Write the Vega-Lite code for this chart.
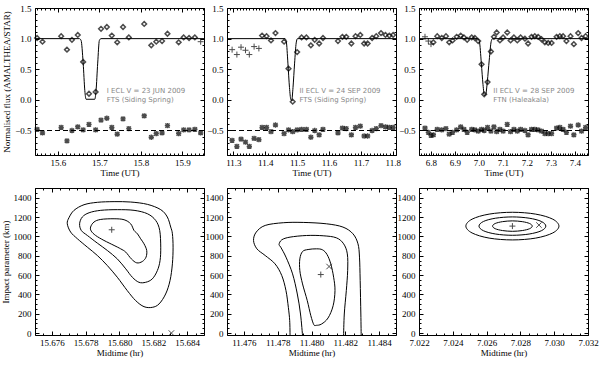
{
"$schema": "https://vega.github.io/schema/vega-lite/v6.json",
"background": "white",
"padding": {"left": 0, "top": 3, "right": 0, "bottom": 3},
"config": {
  "view": {"stroke": "black", "strokeWidth": 1},
  "font": "Liberation Serif",
  "axis": {"domain": false, "grid": false, "labelFont": "Liberation Serif", "labelFontSize": 9, "labelColor": "black", "titleFont": "Liberation Serif", "titleFontSize": 9, "titleFontWeight": "normal", "titleColor": "black", "tickColor": "black", "tickWidth": 1, "labelFlush": false, "labelOverlap": false}
},
"datasets": {
  "lc1": [
    {"t":15.550,"f":1.01,"s":-0.48,"sym":"d"},{"t":15.563,"f":0.95,"s":-0.54,"sym":"d"},{"t":15.608,"f":1.04,"s":-0.45,"sym":"d"},{"t":15.622,"f":0.82,"s":-0.67,"sym":"d"},{"t":15.634,"f":0.98,"s":-0.50,"sym":"d"},{"t":15.648,"f":1.06,"s":-0.44,"sym":"d"},{"t":15.661,"f":0.62,"s":-0.49,"sym":"d"},{"t":15.675,"f":0.10,"s":-0.40,"sym":"d"},{"t":15.691,"f":0.13,"s":-0.49,"sym":"d"},{"t":15.704,"f":1.16,"s":-0.33,"sym":"d"},{"t":15.718,"f":1.19,"s":-0.30,"sym":"d"},{"t":15.730,"f":1.05,"s":-0.45,"sym":"d"},{"t":15.743,"f":0.94,"s":-0.56,"sym":"d"},{"t":15.757,"f":1.19,"s":-0.31,"sym":"d"},{"t":15.771,"f":1.02,"s":-0.47,"sym":"d"},{"t":15.808,"f":1.24,"s":-0.26,"sym":"d"},{"t":15.825,"f":0.89,"s":-0.61,"sym":"d"},{"t":15.837,"f":0.95,"s":-0.55,"sym":"d"},{"t":15.851,"f":0.96,"s":-0.54,"sym":"d"},{"t":15.864,"f":1.08,"s":-0.42,"sym":"d"},{"t":15.891,"f":0.94,"s":-0.55,"sym":"d"},{"t":15.903,"f":1.02,"s":-0.49,"sym":"d"},{"t":15.916,"f":1.01,"s":-0.49,"sym":"d"},{"t":15.930,"f":1.02,"s":-0.48,"sym":"d"},{"t":15.944,"f":0.95,"s":-0.54,"sym":"p"}
  ],
  "fit1": [
    {"t":15.545,"v":1},{"t":15.652,"v":1},{"t":15.656,"v":0.97},{"t":15.661,"v":0.6},{"t":15.665,"v":0.15},{"t":15.668,"v":0.01},{"t":15.689,"v":0.01},{"t":15.692,"v":0.15},{"t":15.696,"v":0.6},{"t":15.700,"v":0.97},{"t":15.704,"v":1},{"t":15.952,"v":1}
  ],
  "txt1": [{"t":15.718,"v":0.146,"label":"I ECL V = 23 JUN 2009"},{"t":15.718,"v":0.0,"label":"FTS (Siding Spring)"}],
  "lc2": [
    {"t":11.296,"f":0.82,"s":-0.66,"sym":"p"},{"t":11.311,"f":0.74,"s":-0.76,"sym":"p"},{"t":11.324,"f":0.86,"s":-0.64,"sym":"p"},{"t":11.338,"f":0.81,"s":-0.69,"sym":"p"},{"t":11.350,"f":0.74,"s":-0.76,"sym":"p"},{"t":11.365,"f":0.87,"s":-0.63,"sym":"p"},{"t":11.380,"f":0.84,"s":-0.65,"sym":"p"},
    {"t":11.390,"f":1.05,"s":-0.45,"sym":"d"},{"t":11.404,"f":1.04,"s":-0.45,"sym":"d"},{"t":11.418,"f":0.97,"s":-0.52,"sym":"d"},{"t":11.432,"f":1.09,"s":-0.41,"sym":"d"},{"t":11.459,"f":0.95,"s":-0.55,"sym":"d"},{"t":11.473,"f":0.51,"s":-0.49,"sym":"d"},{"t":11.486,"f":-0.03,"s":-0.52,"sym":"d"},{"t":11.500,"f":0.78,"s":-0.49,"sym":"d"},{"t":11.514,"f":1.02,"s":-0.48,"sym":"d"},{"t":11.529,"f":1.02,"s":-0.48,"sym":"d"},{"t":11.543,"f":0.89,"s":-0.61,"sym":"d"},{"t":11.555,"f":0.98,"s":-0.50,"sym":"d"},{"t":11.569,"f":0.92,"s":-0.57,"sym":"d"},{"t":11.581,"f":1.01,"s":-0.48,"sym":"d"},{"t":11.628,"f":0.96,"s":-0.54,"sym":"d"},{"t":11.642,"f":1.03,"s":-0.46,"sym":"d"},{"t":11.654,"f":1.03,"s":-0.47,"sym":"d"},{"t":11.670,"f":0.92,"s":-0.57,"sym":"d"},{"t":11.683,"f":1.04,"s":-0.45,"sym":"d"},{"t":11.698,"f":1.06,"s":-0.43,"sym":"d"},{"t":11.710,"f":0.92,"s":-0.59,"sym":"d"},{"t":11.721,"f":0.92,"s":-0.59,"sym":"d"},{"t":11.735,"f":1.01,"s":-0.50,"sym":"d"},{"t":11.748,"f":1.04,"s":-0.47,"sym":"d"},{"t":11.763,"f":1.09,"s":-0.42,"sym":"d"},{"t":11.777,"f":1.06,"s":-0.44,"sym":"d"},{"t":11.789,"f":1.05,"s":-0.45,"sym":"d"},{"t":11.801,"f":1.06,"s":-0.45,"sym":"d"}
  ],
  "fit2": [
    {"t":11.28,"v":1},{"t":11.462,"v":1},{"t":11.466,"v":0.95},{"t":11.471,"v":0.6},{"t":11.476,"v":0.2},{"t":11.480,"v":0.01},{"t":11.483,"v":-0.01},{"t":11.487,"v":0.2},{"t":11.492,"v":0.6},{"t":11.497,"v":0.93},{"t":11.501,"v":1},{"t":11.81,"v":1}
  ],
  "txt2": [{"t":11.507,"v":0.146,"label":"II ECL V = 24 SEP 2009"},{"t":11.507,"v":0.0,"label":"FTS (Siding Spring)"}],
  "lc3": [
    {"t":6.775,"f":1.03,"s":-0.46,"sym":"p"},{"t":6.789,"f":0.96,"s":-0.53,"sym":"p"},{"t":6.800,"f":0.91,"s":-0.58,"sym":"p"},
    {"t":6.810,"f":0.94,"s":-0.57,"sym":"d"},{"t":6.826,"f":1.04,"s":-0.48,"sym":"d"},{"t":6.845,"f":1.01,"s":-0.49,"sym":"d"},{"t":6.8625,"f":1.04,"s":-0.47,"sym":"d"},{"t":6.876,"f":0.94,"s":-0.56,"sym":"d"},{"t":6.890,"f":0.97,"s":-0.53,"sym":"d"},{"t":6.907,"f":1.03,"s":-0.49,"sym":"d"},{"t":6.924,"f":1.05,"s":-0.44,"sym":"d"},{"t":6.9375,"f":1.02,"s":-0.48,"sym":"d"},{"t":6.951,"f":0.98,"s":-0.53,"sym":"d"},{"t":6.970,"f":1.02,"s":-0.48,"sym":"d"},{"t":6.983,"f":1.01,"s":-0.49,"sym":"d"},{"t":6.997,"f":0.96,"s":-0.51,"sym":"d"},{"t":7.011,"f":0.58,"s":-0.48,"sym":"d"},{"t":7.022,"f":0.09,"s":-0.50,"sym":"d"},{"t":7.036,"f":0.29,"s":-0.45,"sym":"d"},{"t":7.050,"f":0.79,"s":-0.51,"sym":"d"},{"t":7.0625,"f":1.03,"s":-0.44,"sym":"d"},{"t":7.074,"f":1.10,"s":-0.52,"sym":"d"},{"t":7.0875,"f":0.97,"s":-0.48,"sym":"d"},{"t":7.101,"f":1.02,"s":-0.51,"sym":"d"},{"t":7.118,"f":1.10,"s":-0.40,"sym":"d"},{"t":7.132,"f":0.97,"s":-0.52,"sym":"d"},{"t":7.146,"f":1.02,"s":-0.48,"sym":"d"},{"t":7.160,"f":0.97,"s":-0.51,"sym":"d"},{"t":7.174,"f":1.02,"s":-0.48,"sym":"d"},{"t":7.192,"f":1.00,"s":-0.50,"sym":"d"},{"t":7.205,"f":0.92,"s":-0.57,"sym":"d"},{"t":7.2195,"f":1.03,"s":-0.48,"sym":"d"},{"t":7.233,"f":1.04,"s":-0.48,"sym":"d"},{"t":7.247,"f":1.03,"s":-0.49,"sym":"d"},{"t":7.261,"f":0.99,"s":-0.51,"sym":"d"},{"t":7.275,"f":0.94,"s":-0.55,"sym":"d"},{"t":7.289,"f":0.93,"s":-0.55,"sym":"d"},{"t":7.303,"f":0.93,"s":-0.55,"sym":"d"},{"t":7.324,"f":1.03,"s":-0.46,"sym":"d"},{"t":7.3375,"f":1.04,"s":-0.45,"sym":"d"},{"t":7.351,"f":1.04,"s":-0.48,"sym":"d"},{"t":7.365,"f":0.96,"s":-0.53,"sym":"d"},{"t":7.382,"f":1.04,"s":-0.43,"sym":"d"},{"t":7.396,"f":0.91,"s":-0.57,"sym":"d"},{"t":7.414,"f":1.09,"s":-0.41,"sym":"d"},{"t":7.428,"f":1.01,"s":-0.51,"sym":"d"},{"t":7.445,"f":1.04,"s":-0.45,"sym":"d"}
  ],
  "fit3": [
    {"t":6.75,"v":1},{"t":6.995,"v":1},{"t":7.002,"v":0.95},{"t":7.010,"v":0.6},{"t":7.017,"v":0.25},{"t":7.023,"v":0.07},{"t":7.028,"v":0.08},{"t":7.035,"v":0.3},{"t":7.043,"v":0.65},{"t":7.051,"v":0.95},{"t":7.057,"v":1},{"t":7.455,"v":1}
  ],
  "txt3": [{"t":7.060,"v":0.146,"label":"II ECL V = 28 SEP 2009"},{"t":7.060,"v":0.0,"label":"FTN (Haleakala)"}],
  "ref": [{"r":-0.5}],
  "con4": [
    {"c":"o","i":0,"t":15.67691,"km":1130},{"c":"o","i":1,"t":15.67701,"km":1193},{"c":"o","i":2,"t":15.67731,"km":1269},{"c":"o","i":3,"t":15.67790,"km":1327},{"c":"o","i":4,"t":15.67869,"km":1352},{"c":"o","i":5,"t":15.67968,"km":1359},{"c":"o","i":6,"t":15.68066,"km":1355},{"c":"o","i":7,"t":15.68165,"km":1331},{"c":"o","i":8,"t":15.68244,"km":1276},{"c":"o","i":9,"t":15.68283,"km":1200},{"c":"o","i":10,"t":15.68303,"km":1096},{"c":"o","i":11,"t":15.68313,"km":1027},{"c":"o","i":12,"t":15.68317,"km":888},{"c":"o","i":13,"t":15.68313,"km":716},{"c":"o","i":14,"t":15.68299,"km":543},{"c":"o","i":15,"t":15.68273,"km":404},{"c":"o","i":16,"t":15.68234,"km":301},{"c":"o","i":17,"t":15.68194,"km":266},{"c":"o","i":18,"t":15.68145,"km":273},{"c":"o","i":19,"t":15.68096,"km":335},{"c":"o","i":20,"t":15.68046,"km":439},{"c":"o","i":21,"t":15.67987,"km":577},{"c":"o","i":22,"t":15.67928,"km":698},{"c":"o","i":23,"t":15.67869,"km":802},{"c":"o","i":24,"t":15.67810,"km":888},{"c":"o","i":25,"t":15.67751,"km":975},{"c":"o","i":26,"t":15.67711,"km":1044},
    {"c":"m","i":0,"t":15.67764,"km":1130},{"c":"m","i":1,"t":15.67780,"km":1200},{"c":"m","i":2,"t":15.67820,"km":1244},{"c":"m","i":3,"t":15.67889,"km":1269},{"c":"m","i":4,"t":15.67987,"km":1276},{"c":"m","i":5,"t":15.68086,"km":1269},{"c":"m","i":6,"t":15.68165,"km":1234},{"c":"m","i":7,"t":15.68214,"km":1165},{"c":"m","i":8,"t":15.68238,"km":1061},{"c":"m","i":9,"t":15.68244,"km":888},{"c":"m","i":10,"t":15.68240,"km":750},{"c":"m","i":11,"t":15.68224,"km":646},{"c":"m","i":12,"t":15.68194,"km":560},{"c":"m","i":13,"t":15.68155,"km":525},{"c":"m","i":14,"t":15.68115,"km":525},{"c":"m","i":15,"t":15.68076,"km":577},{"c":"m","i":16,"t":15.68037,"km":664},{"c":"m","i":17,"t":15.67987,"km":767},{"c":"m","i":18,"t":15.67928,"km":854},{"c":"m","i":19,"t":15.67869,"km":930},{"c":"m","i":20,"t":15.67810,"km":1009},{"c":"m","i":21,"t":15.67774,"km":1061},
    {"c":"n","i":0,"t":15.67829,"km":1096},{"c":"n","i":1,"t":15.67849,"km":1148},{"c":"n","i":2,"t":15.67889,"km":1175},{"c":"n","i":3,"t":15.67968,"km":1182},{"c":"n","i":4,"t":15.68027,"km":1172},{"c":"n","i":5,"t":15.68066,"km":1130},{"c":"n","i":6,"t":15.68086,"km":1061},{"c":"n","i":7,"t":15.68106,"km":1027},{"c":"n","i":8,"t":15.68125,"km":975},{"c":"n","i":9,"t":15.68145,"km":923},{"c":"n","i":10,"t":15.68161,"km":854},{"c":"n","i":11,"t":15.68157,"km":785},{"c":"n","i":12,"t":15.68135,"km":740},{"c":"n","i":13,"t":15.68102,"km":726},{"c":"n","i":14,"t":15.68070,"km":767},{"c":"n","i":15,"t":15.68037,"km":837},{"c":"n","i":16,"t":15.68007,"km":871},{"c":"n","i":17,"t":15.67968,"km":906},{"c":"n","i":18,"t":15.67908,"km":958},{"c":"n","i":19,"t":15.67859,"km":1009},{"c":"n","i":20,"t":15.67833,"km":1054}
  ],
  "best4": [{"t":15.67954,"km":1068}],
  "alt4": [{"t":15.68307,"km":0}],
  "con5": [
    {"c":"o","i":0,"t":11.47873,"km":-28},{"c":"o","i":1,"t":11.47871,"km":128},{"c":"o","i":2,"t":11.47863,"km":266},{"c":"o","i":3,"t":11.47849,"km":439},{"c":"o","i":4,"t":11.47824,"km":595},{"c":"o","i":5,"t":11.47784,"km":716},{"c":"o","i":6,"t":11.47726,"km":802},{"c":"o","i":7,"t":11.47677,"km":871},{"c":"o","i":8,"t":11.47657,"km":958},{"c":"o","i":9,"t":11.47673,"km":1044},{"c":"o","i":10,"t":11.47726,"km":1113},{"c":"o","i":11,"t":11.47833,"km":1141},{"c":"o","i":12,"t":11.47951,"km":1144},{"c":"o","i":13,"t":11.48088,"km":1130},{"c":"o","i":14,"t":11.48186,"km":1096},{"c":"o","i":15,"t":11.48245,"km":1027},{"c":"o","i":16,"t":11.48275,"km":923},{"c":"o","i":17,"t":11.48284,"km":785},{"c":"o","i":18,"t":11.48288,"km":543},{"c":"o","i":19,"t":11.48292,"km":197},{"c":"o","i":20,"t":11.48294,"km":-28},
    {"c":"m","i":0,"t":11.47947,"km":-28},{"c":"m","i":1,"t":11.47935,"km":197},{"c":"m","i":2,"t":11.47916,"km":404},{"c":"m","i":3,"t":11.47888,"km":612},{"c":"m","i":4,"t":11.47849,"km":785},{"c":"m","i":5,"t":11.47818,"km":888},{"c":"m","i":6,"t":11.47808,"km":916},{"c":"m","i":7,"t":11.47824,"km":964},{"c":"m","i":8,"t":11.47873,"km":992},{"c":"m","i":9,"t":11.47971,"km":1009},{"c":"m","i":10,"t":11.48069,"km":1006},{"c":"m","i":11,"t":11.48147,"km":985},{"c":"m","i":12,"t":11.48190,"km":923},{"c":"m","i":13,"t":11.48212,"km":819},{"c":"m","i":14,"t":11.48214,"km":646},{"c":"m","i":15,"t":11.48206,"km":439},{"c":"m","i":16,"t":11.48194,"km":197},{"c":"m","i":17,"t":11.48190,"km":-28},
    {"c":"n","i":0,"t":11.48014,"km":86},{"c":"n","i":1,"t":11.47996,"km":180},{"c":"n","i":2,"t":11.47975,"km":335},{"c":"n","i":3,"t":11.47947,"km":508},{"c":"n","i":4,"t":11.47931,"km":646},{"c":"n","i":5,"t":11.47931,"km":767},{"c":"n","i":6,"t":11.47947,"km":843},{"c":"n","i":7,"t":11.47980,"km":864},{"c":"n","i":8,"t":11.48029,"km":871},{"c":"n","i":9,"t":11.48065,"km":861},{"c":"n","i":10,"t":11.48092,"km":812},{"c":"n","i":11,"t":11.48114,"km":716},{"c":"n","i":12,"t":11.48131,"km":577},{"c":"n","i":13,"t":11.48139,"km":439},{"c":"n","i":14,"t":11.48128,"km":283},{"c":"n","i":15,"t":11.48098,"km":156},{"c":"n","i":16,"t":11.48059,"km":93},{"c":"n","i":17,"t":11.48029,"km":80}
  ],
  "best5": [{"t":11.48055,"km":605}],
  "alt5": [{"t":11.48104,"km":688}],
  "con6": [
    {"c":"n","i":0,"t":7.028700,"km":1106},{"c":"n","i":1,"t":7.028543,"km":1133},{"c":"n","i":2,"t":7.028114,"km":1152},{"c":"n","i":3,"t":7.027527,"km":1160},{"c":"n","i":4,"t":7.026941,"km":1152},{"c":"n","i":5,"t":7.026511,"km":1133},{"c":"n","i":6,"t":7.026354,"km":1106},{"c":"n","i":7,"t":7.026511,"km":1079},{"c":"n","i":8,"t":7.026941,"km":1060},{"c":"n","i":9,"t":7.027527,"km":1052},{"c":"n","i":10,"t":7.028114,"km":1060},{"c":"n","i":11,"t":7.028543,"km":1079},
    {"c":"m","i":0,"t":7.029505,"km":1106},{"c":"m","i":1,"t":7.029240,"km":1154},{"c":"m","i":2,"t":7.028516,"km":1188},{"c":"m","i":3,"t":7.027527,"km":1201},{"c":"m","i":4,"t":7.026538,"km":1188},{"c":"m","i":5,"t":7.025814,"km":1154},{"c":"m","i":6,"t":7.025549,"km":1106},{"c":"m","i":7,"t":7.025814,"km":1058},{"c":"m","i":8,"t":7.026538,"km":1024},{"c":"m","i":9,"t":7.027527,"km":1011},{"c":"m","i":10,"t":7.028516,"km":1024},{"c":"m","i":11,"t":7.029240,"km":1058},
    {"c":"o","i":0,"t":7.030281,"km":1106},{"c":"o","i":1,"t":7.029912,"km":1178},{"c":"o","i":2,"t":7.028904,"km":1230},{"c":"o","i":3,"t":7.027527,"km":1249},{"c":"o","i":4,"t":7.026150,"km":1230},{"c":"o","i":5,"t":7.025142,"km":1178},{"c":"o","i":6,"t":7.024773,"km":1106},{"c":"o","i":7,"t":7.025142,"km":1035},{"c":"o","i":8,"t":7.026150,"km":982},{"c":"o","i":9,"t":7.027527,"km":963},{"c":"o","i":10,"t":7.028904,"km":982},{"c":"o","i":11,"t":7.029912,"km":1035}
  ],
  "best6": [{"t":7.027527,"km":1106}],
  "alt6": [{"t":7.029097,"km":1117}]
},
"columns": 3,
"spacing": {"row": 33, "column": 23},
"bounds": "flush",
"concat": [
  {
    "width": 169, "height": 147,
    "resolve": {"axis": {"x": "independent", "y": "independent"}},
    "layer": [
      {"data": {"name": "fit1"}, "mark": {"type": "line", "color": "black", "strokeWidth": 1, "interpolate": "monotone"},
       "encoding": {
         "x": {"field": "t", "type": "quantitative", "scale": {"domain": [15.545, 15.952], "nice": false, "zero": false}, "axis": {"orient": "bottom", "values": [15.6, 15.7, 15.8, 15.9], "format": ".1f", "title": "Time (UT)", "tickSize": 4, "offset": -4, "labelPadding": 3, "titlePadding": 1}},
         "y": {"field": "v", "type": "quantitative", "scale": {"domain": [-0.9, 1.5], "nice": false, "zero": false}, "axis": {"orient": "left", "values": [-0.5, 0, 0.5, 1, 1.5], "format": ".1f", "title": "Normalised flux (AMALTHEA/STAR)", "tickSize": 4, "offset": -4, "labelPadding": 4, "titlePadding": 3}}}},
      {"data": {"name": "lc1"}, "transform": [{"filter": "datum.sym == 'd'"}], "mark": {"type": "point", "shape": "diamond", "filled": false, "color": "black", "size": 22, "strokeWidth": 1.5},
       "encoding": {
         "x": {"field": "t", "type": "quantitative", "scale": {"domain": [15.545, 15.952], "nice": false, "zero": false}, "axis": {"orient": "bottom", "tickCount": 40, "labels": false, "title": null, "tickSize": 2, "offset": -2}},
         "y": {"field": "f", "type": "quantitative", "scale": {"domain": [-0.9, 1.5], "nice": false, "zero": false}, "axis": {"orient": "left", "tickCount": 24, "labels": false, "title": null, "tickSize": 2, "offset": -2}}}},
      {"data": {"name": "lc1"}, "mark": {"type": "point", "shape": "M-1,0L1,0M0,-1L0,1M-0.8,-0.8L0.8,0.8M-0.8,0.8L0.8,-0.8", "filled": false, "color": "black", "size": 28, "strokeWidth": 1.4},
       "encoding": {
         "x": {"field": "t", "type": "quantitative", "scale": {"domain": [15.545, 15.952], "nice": false, "zero": false}, "axis": {"orient": "top", "values": [15.6, 15.7, 15.8, 15.9], "labels": false, "title": null, "tickSize": 4, "offset": -4}},
         "y": {"field": "s", "type": "quantitative", "scale": {"domain": [-0.9, 1.5], "nice": false, "zero": false}, "axis": {"orient": "right", "values": [-0.5, 0, 0.5, 1, 1.5], "labels": false, "title": null, "tickSize": 4, "offset": -4}}}},
      {"data": {"name": "lc1"}, "transform": [{"filter": "datum.sym == 'p'"}], "mark": {"type": "point", "shape": "M-1,0L1,0M0,-1L0,1", "filled": false, "color": "black", "size": 36, "strokeWidth": 1},
       "encoding": {
         "x": {"field": "t", "type": "quantitative", "scale": {"domain": [15.545, 15.952], "nice": false, "zero": false}, "axis": {"orient": "top", "tickCount": 40, "labels": false, "title": null, "tickSize": 2, "offset": -2}},
         "y": {"field": "f", "type": "quantitative", "scale": {"domain": [-0.9, 1.5], "nice": false, "zero": false}, "axis": {"orient": "right", "tickCount": 24, "labels": false, "title": null, "tickSize": 2, "offset": -2}}}},
      {"data": {"name": "ref"}, "mark": {"type": "rule", "color": "black", "strokeWidth": 1, "strokeDash": [5, 3]},
       "encoding": {"y": {"field": "r", "type": "quantitative", "scale": {"domain": [-0.9, 1.5], "nice": false, "zero": false}, "axis": null}}},
      {"data": {"name": "txt1"}, "mark": {"type": "text", "font": "DejaVu Sans", "fontSize": 7, "color": "#888888", "align": "left", "baseline": "middle"},
       "encoding": {
         "x": {"field": "t", "type": "quantitative", "scale": {"domain": [15.545, 15.952], "nice": false, "zero": false}, "axis": null},
         "y": {"field": "v", "type": "quantitative", "scale": {"domain": [-0.9, 1.5], "nice": false, "zero": false}, "axis": null},
         "text": {"field": "label"}}}
    ]
  },
  {
    "width": 169, "height": 147,
    "resolve": {"axis": {"x": "independent", "y": "independent"}},
    "layer": [
      {"data": {"name": "fit2"}, "mark": {"type": "line", "color": "black", "strokeWidth": 1, "interpolate": "monotone"},
       "encoding": {
         "x": {"field": "t", "type": "quantitative", "scale": {"domain": [11.28, 11.81], "nice": false, "zero": false}, "axis": {"orient": "bottom", "values": [11.3, 11.4, 11.5, 11.6, 11.7, 11.8], "format": ".1f", "title": "Time (UT)", "tickSize": 4, "offset": -4, "labelPadding": 3, "titlePadding": 1}},
         "y": {"field": "v", "type": "quantitative", "scale": {"domain": [-0.9, 1.5], "nice": false, "zero": false}, "axis": {"orient": "left", "values": [-0.5, 0, 0.5, 1, 1.5], "format": ".1f", "title": null, "tickSize": 4, "offset": -4, "labelPadding": 4}}}},
      {"data": {"name": "lc2"}, "transform": [{"filter": "datum.sym == 'd'"}], "mark": {"type": "point", "shape": "diamond", "filled": false, "color": "black", "size": 22, "strokeWidth": 1.5},
       "encoding": {
         "x": {"field": "t", "type": "quantitative", "scale": {"domain": [11.28, 11.81], "nice": false, "zero": false}, "axis": {"orient": "bottom", "tickCount": 53, "labels": false, "title": null, "tickSize": 2, "offset": -2}},
         "y": {"field": "f", "type": "quantitative", "scale": {"domain": [-0.9, 1.5], "nice": false, "zero": false}, "axis": {"orient": "left", "tickCount": 24, "labels": false, "title": null, "tickSize": 2, "offset": -2}}}},
      {"data": {"name": "lc2"}, "mark": {"type": "point", "shape": "M-1,0L1,0M0,-1L0,1M-0.8,-0.8L0.8,0.8M-0.8,0.8L0.8,-0.8", "filled": false, "color": "black", "size": 28, "strokeWidth": 1.4},
       "encoding": {
         "x": {"field": "t", "type": "quantitative", "scale": {"domain": [11.28, 11.81], "nice": false, "zero": false}, "axis": {"orient": "top", "values": [11.3, 11.4, 11.5, 11.6, 11.7, 11.8], "labels": false, "title": null, "tickSize": 4, "offset": -4}},
         "y": {"field": "s", "type": "quantitative", "scale": {"domain": [-0.9, 1.5], "nice": false, "zero": false}, "axis": {"orient": "right", "values": [-0.5, 0, 0.5, 1, 1.5], "labels": false, "title": null, "tickSize": 4, "offset": -4}}}},
      {"data": {"name": "lc2"}, "transform": [{"filter": "datum.sym == 'p'"}], "mark": {"type": "point", "shape": "M-1,0L1,0M0,-1L0,1", "filled": false, "color": "black", "size": 36, "strokeWidth": 1},
       "encoding": {
         "x": {"field": "t", "type": "quantitative", "scale": {"domain": [11.28, 11.81], "nice": false, "zero": false}, "axis": {"orient": "top", "tickCount": 53, "labels": false, "title": null, "tickSize": 2, "offset": -2}},
         "y": {"field": "f", "type": "quantitative", "scale": {"domain": [-0.9, 1.5], "nice": false, "zero": false}, "axis": {"orient": "right", "tickCount": 24, "labels": false, "title": null, "tickSize": 2, "offset": -2}}}},
      {"data": {"name": "ref"}, "mark": {"type": "rule", "color": "black", "strokeWidth": 1, "strokeDash": [5, 3]},
       "encoding": {"y": {"field": "r", "type": "quantitative", "scale": {"domain": [-0.9, 1.5], "nice": false, "zero": false}, "axis": null}}},
      {"data": {"name": "txt2"}, "mark": {"type": "text", "font": "DejaVu Sans", "fontSize": 7, "color": "#888888", "align": "left", "baseline": "middle"},
       "encoding": {
         "x": {"field": "t", "type": "quantitative", "scale": {"domain": [11.28, 11.81], "nice": false, "zero": false}, "axis": null},
         "y": {"field": "v", "type": "quantitative", "scale": {"domain": [-0.9, 1.5], "nice": false, "zero": false}, "axis": null},
         "text": {"field": "label"}}}
    ]
  },
  {
    "width": 169, "height": 147,
    "resolve": {"axis": {"x": "independent", "y": "independent"}},
    "layer": [
      {"data": {"name": "fit3"}, "mark": {"type": "line", "color": "black", "strokeWidth": 1, "interpolate": "monotone"},
       "encoding": {
         "x": {"field": "t", "type": "quantitative", "scale": {"domain": [6.75, 7.455], "nice": false, "zero": false}, "axis": {"orient": "bottom", "values": [6.8, 6.9, 7.0, 7.1, 7.2, 7.3, 7.4], "format": ".1f", "title": "Time (UT)", "tickSize": 4, "offset": -4, "labelPadding": 3, "titlePadding": 1}},
         "y": {"field": "v", "type": "quantitative", "scale": {"domain": [-0.9, 1.5], "nice": false, "zero": false}, "axis": {"orient": "left", "values": [-0.5, 0, 0.5, 1, 1.5], "format": ".1f", "title": null, "tickSize": 4, "offset": -4, "labelPadding": 4}}}},
      {"data": {"name": "lc3"}, "transform": [{"filter": "datum.sym == 'd'"}], "mark": {"type": "point", "shape": "diamond", "filled": false, "color": "black", "size": 22, "strokeWidth": 1.5},
       "encoding": {
         "x": {"field": "t", "type": "quantitative", "scale": {"domain": [6.75, 7.455], "nice": false, "zero": false}, "axis": {"orient": "bottom", "tickCount": 70, "labels": false, "title": null, "tickSize": 2, "offset": -2}},
         "y": {"field": "f", "type": "quantitative", "scale": {"domain": [-0.9, 1.5], "nice": false, "zero": false}, "axis": {"orient": "left", "tickCount": 24, "labels": false, "title": null, "tickSize": 2, "offset": -2}}}},
      {"data": {"name": "lc3"}, "mark": {"type": "point", "shape": "M-1,0L1,0M0,-1L0,1M-0.8,-0.8L0.8,0.8M-0.8,0.8L0.8,-0.8", "filled": false, "color": "black", "size": 28, "strokeWidth": 1.4},
       "encoding": {
         "x": {"field": "t", "type": "quantitative", "scale": {"domain": [6.75, 7.455], "nice": false, "zero": false}, "axis": {"orient": "top", "values": [6.8, 6.9, 7.0, 7.1, 7.2, 7.3, 7.4], "labels": false, "title": null, "tickSize": 4, "offset": -4}},
         "y": {"field": "s", "type": "quantitative", "scale": {"domain": [-0.9, 1.5], "nice": false, "zero": false}, "axis": {"orient": "right", "values": [-0.5, 0, 0.5, 1, 1.5], "labels": false, "title": null, "tickSize": 4, "offset": -4}}}},
      {"data": {"name": "lc3"}, "transform": [{"filter": "datum.sym == 'p'"}], "mark": {"type": "point", "shape": "M-1,0L1,0M0,-1L0,1", "filled": false, "color": "black", "size": 36, "strokeWidth": 1},
       "encoding": {
         "x": {"field": "t", "type": "quantitative", "scale": {"domain": [6.75, 7.455], "nice": false, "zero": false}, "axis": {"orient": "top", "tickCount": 70, "labels": false, "title": null, "tickSize": 2, "offset": -2}},
         "y": {"field": "f", "type": "quantitative", "scale": {"domain": [-0.9, 1.5], "nice": false, "zero": false}, "axis": {"orient": "right", "tickCount": 24, "labels": false, "title": null, "tickSize": 2, "offset": -2}}}},
      {"data": {"name": "ref"}, "mark": {"type": "rule", "color": "black", "strokeWidth": 1, "strokeDash": [5, 3]},
       "encoding": {"y": {"field": "r", "type": "quantitative", "scale": {"domain": [-0.9, 1.5], "nice": false, "zero": false}, "axis": null}}},
      {"data": {"name": "txt3"}, "mark": {"type": "text", "font": "DejaVu Sans", "fontSize": 7, "color": "#888888", "align": "left", "baseline": "middle"},
       "encoding": {
         "x": {"field": "t", "type": "quantitative", "scale": {"domain": [6.75, 7.455], "nice": false, "zero": false}, "axis": null},
         "y": {"field": "v", "type": "quantitative", "scale": {"domain": [-0.9, 1.5], "nice": false, "zero": false}, "axis": null},
         "text": {"field": "label"}}}
    ]
  },
  {
    "width": 169, "height": 147,
    "resolve": {"axis": {"x": "independent", "y": "independent"}},
    "layer": [
      {"data": {"name": "con4"}, "transform": [{"filter": "datum.c != 'n'"}], "mark": {"type": "line", "color": "black", "strokeWidth": 1, "interpolate": "cardinal-closed"},
       "encoding": {
         "x": {"field": "t", "type": "quantitative", "scale": {"domain": [15.675, 15.685], "nice": false, "zero": false}, "axis": {"orient": "bottom", "values": [15.676, 15.678, 15.68, 15.682, 15.684], "format": ".3f", "title": "Midtime (hr)", "tickSize": 4, "offset": -4, "labelPadding": 3, "titlePadding": 1}},
         "y": {"field": "km", "type": "quantitative", "scale": {"domain": [-20, 1500], "nice": false, "zero": false}, "axis": {"orient": "left", "values": [0, 200, 400, 600, 800, 1000, 1200, 1400], "format": "d", "title": "Impact parameter (km)", "tickSize": 4, "offset": -4, "labelPadding": 4, "titlePadding": 3}},
         "detail": {"field": "c", "type": "nominal"},
         "order": {"field": "i", "type": "quantitative"}}},
      {"data": {"name": "best4"}, "mark": {"type": "point", "shape": "M-1,0L1,0M0,-1L0,1", "filled": false, "color": "black", "size": 36, "strokeWidth": 1},
       "encoding": {
         "x": {"field": "t", "type": "quantitative", "scale": {"domain": [15.675, 15.685], "nice": false, "zero": false}, "axis": {"orient": "bottom", "tickCount": 20, "labels": false, "title": null, "tickSize": 2, "offset": -2}},
         "y": {"field": "km", "type": "quantitative", "scale": {"domain": [-20, 1500], "nice": false, "zero": false}, "axis": {"orient": "left", "tickCount": 30, "labels": false, "title": null, "tickSize": 2, "offset": -2}}}},
      {"data": {"name": "alt4"}, "mark": {"type": "point", "shape": "M-1,-1L1,1M-1,1L1,-1", "filled": false, "color": "black", "size": 30, "strokeWidth": 1},
       "encoding": {
         "x": {"field": "t", "type": "quantitative", "scale": {"domain": [15.675, 15.685], "nice": false, "zero": false}, "axis": {"orient": "top", "values": [15.676, 15.678, 15.68, 15.682, 15.684], "labels": false, "title": null, "tickSize": 4, "offset": -4}},
         "y": {"field": "km", "type": "quantitative", "scale": {"domain": [-20, 1500], "nice": false, "zero": false}, "axis": {"orient": "right", "values": [0, 200, 400, 600, 800, 1000, 1200, 1400], "labels": false, "title": null, "tickSize": 4, "offset": -4}}}},
      {"data": {"name": "con4"}, "transform": [{"filter": "datum.c == 'n'"}], "mark": {"type": "line", "color": "black", "strokeWidth": 1, "interpolate": "cardinal-closed"},
       "encoding": {
         "x": {"field": "t", "type": "quantitative", "scale": {"domain": [15.675, 15.685], "nice": false, "zero": false}, "axis": {"orient": "top", "tickCount": 20, "labels": false, "title": null, "tickSize": 2, "offset": -2}},
         "y": {"field": "km", "type": "quantitative", "scale": {"domain": [-20, 1500], "nice": false, "zero": false}, "axis": {"orient": "right", "tickCount": 30, "labels": false, "title": null, "tickSize": 2, "offset": -2}},
         "detail": {"field": "c", "type": "nominal"},
         "order": {"field": "i", "type": "quantitative"}}}
    ]
  },
  {
    "width": 169, "height": 147,
    "resolve": {"axis": {"x": "independent", "y": "independent"}},
    "layer": [
      {"data": {"name": "con5"}, "transform": [{"filter": "datum.c == 'n'"}], "mark": {"type": "line", "color": "black", "strokeWidth": 1, "interpolate": "cardinal-closed"},
       "encoding": {
         "x": {"field": "t", "type": "quantitative", "scale": {"domain": [11.475, 11.485], "nice": false, "zero": false}, "axis": {"orient": "bottom", "values": [11.476, 11.478, 11.48, 11.482, 11.484], "format": ".3f", "title": "Midtime (hr)", "tickSize": 4, "offset": -4, "labelPadding": 3, "titlePadding": 1}},
         "y": {"field": "km", "type": "quantitative", "scale": {"domain": [-20, 1500], "nice": false, "zero": false}, "axis": {"orient": "left", "values": [0, 200, 400, 600, 800, 1000, 1200, 1400], "format": "d", "title": null, "tickSize": 4, "offset": -4, "labelPadding": 4}},
         "detail": {"field": "c", "type": "nominal"},
         "order": {"field": "i", "type": "quantitative"}}},
      {"data": {"name": "best5"}, "mark": {"type": "point", "shape": "M-1,0L1,0M0,-1L0,1", "filled": false, "color": "black", "size": 36, "strokeWidth": 1},
       "encoding": {
         "x": {"field": "t", "type": "quantitative", "scale": {"domain": [11.475, 11.485], "nice": false, "zero": false}, "axis": {"orient": "bottom", "tickCount": 20, "labels": false, "title": null, "tickSize": 2, "offset": -2}},
         "y": {"field": "km", "type": "quantitative", "scale": {"domain": [-20, 1500], "nice": false, "zero": false}, "axis": {"orient": "left", "tickCount": 30, "labels": false, "title": null, "tickSize": 2, "offset": -2}}}},
      {"data": {"name": "alt5"}, "mark": {"type": "point", "shape": "M-1,-1L1,1M-1,1L1,-1", "filled": false, "color": "black", "size": 30, "strokeWidth": 1},
       "encoding": {
         "x": {"field": "t", "type": "quantitative", "scale": {"domain": [11.475, 11.485], "nice": false, "zero": false}, "axis": {"orient": "top", "values": [11.476, 11.478, 11.48, 11.482, 11.484], "labels": false, "title": null, "tickSize": 4, "offset": -4}},
         "y": {"field": "km", "type": "quantitative", "scale": {"domain": [-20, 1500], "nice": false, "zero": false}, "axis": {"orient": "right", "values": [0, 200, 400, 600, 800, 1000, 1200, 1400], "labels": false, "title": null, "tickSize": 4, "offset": -4}}}},
      {"data": {"name": "con5"}, "transform": [{"filter": "datum.c != 'n'"}], "mark": {"type": "line", "color": "black", "strokeWidth": 1, "interpolate": "cardinal", "clip": true},
       "encoding": {
         "x": {"field": "t", "type": "quantitative", "scale": {"domain": [11.475, 11.485], "nice": false, "zero": false}, "axis": {"orient": "top", "tickCount": 20, "labels": false, "title": null, "tickSize": 2, "offset": -2}},
         "y": {"field": "km", "type": "quantitative", "scale": {"domain": [-20, 1500], "nice": false, "zero": false}, "axis": {"orient": "right", "tickCount": 30, "labels": false, "title": null, "tickSize": 2, "offset": -2}},
         "detail": {"field": "c", "type": "nominal"},
         "order": {"field": "i", "type": "quantitative"}}}
    ]
  },
  {
    "width": 169, "height": 147,
    "resolve": {"axis": {"x": "independent", "y": "independent"}},
    "layer": [
      {"data": {"name": "con6"}, "transform": [{"filter": "datum.c != 'n'"}], "mark": {"type": "line", "color": "black", "strokeWidth": 1, "interpolate": "cardinal-closed"},
       "encoding": {
         "x": {"field": "t", "type": "quantitative", "scale": {"domain": [7.022, 7.032], "nice": false, "zero": false}, "axis": {"orient": "bottom", "values": [7.022, 7.024, 7.026, 7.028, 7.03, 7.032], "format": ".3f", "title": "Midtime (hr)", "tickSize": 4, "offset": -4, "labelPadding": 3, "titlePadding": 1}},
         "y": {"field": "km", "type": "quantitative", "scale": {"domain": [-20, 1500], "nice": false, "zero": false}, "axis": {"orient": "left", "values": [0, 200, 400, 600, 800, 1000, 1200, 1400], "format": "d", "title": null, "tickSize": 4, "offset": -4, "labelPadding": 4}},
         "detail": {"field": "c", "type": "nominal"},
         "order": {"field": "i", "type": "quantitative"}}},
      {"data": {"name": "best6"}, "mark": {"type": "point", "shape": "M-1,0L1,0M0,-1L0,1", "filled": false, "color": "black", "size": 36, "strokeWidth": 1},
       "encoding": {
         "x": {"field": "t", "type": "quantitative", "scale": {"domain": [7.022, 7.032], "nice": false, "zero": false}, "axis": {"orient": "bottom", "tickCount": 20, "labels": false, "title": null, "tickSize": 2, "offset": -2}},
         "y": {"field": "km", "type": "quantitative", "scale": {"domain": [-20, 1500], "nice": false, "zero": false}, "axis": {"orient": "left", "tickCount": 30, "labels": false, "title": null, "tickSize": 2, "offset": -2}}}},
      {"data": {"name": "alt6"}, "mark": {"type": "point", "shape": "M-1,-1L1,1M-1,1L1,-1", "filled": false, "color": "black", "size": 30, "strokeWidth": 1},
       "encoding": {
         "x": {"field": "t", "type": "quantitative", "scale": {"domain": [7.022, 7.032], "nice": false, "zero": false}, "axis": {"orient": "top", "values": [7.022, 7.024, 7.026, 7.028, 7.03, 7.032], "labels": false, "title": null, "tickSize": 4, "offset": -4}},
         "y": {"field": "km", "type": "quantitative", "scale": {"domain": [-20, 1500], "nice": false, "zero": false}, "axis": {"orient": "right", "values": [0, 200, 400, 600, 800, 1000, 1200, 1400], "labels": false, "title": null, "tickSize": 4, "offset": -4}}}},
      {"data": {"name": "con6"}, "transform": [{"filter": "datum.c == 'n'"}], "mark": {"type": "line", "color": "black", "strokeWidth": 1, "interpolate": "cardinal-closed"},
       "encoding": {
         "x": {"field": "t", "type": "quantitative", "scale": {"domain": [7.022, 7.032], "nice": false, "zero": false}, "axis": {"orient": "top", "tickCount": 20, "labels": false, "title": null, "tickSize": 2, "offset": -2}},
         "y": {"field": "km", "type": "quantitative", "scale": {"domain": [-20, 1500], "nice": false, "zero": false}, "axis": {"orient": "right", "tickCount": 30, "labels": false, "title": null, "tickSize": 2, "offset": -2}},
         "detail": {"field": "c", "type": "nominal"},
         "order": {"field": "i", "type": "quantitative"}}}
    ]
  }
]
}
